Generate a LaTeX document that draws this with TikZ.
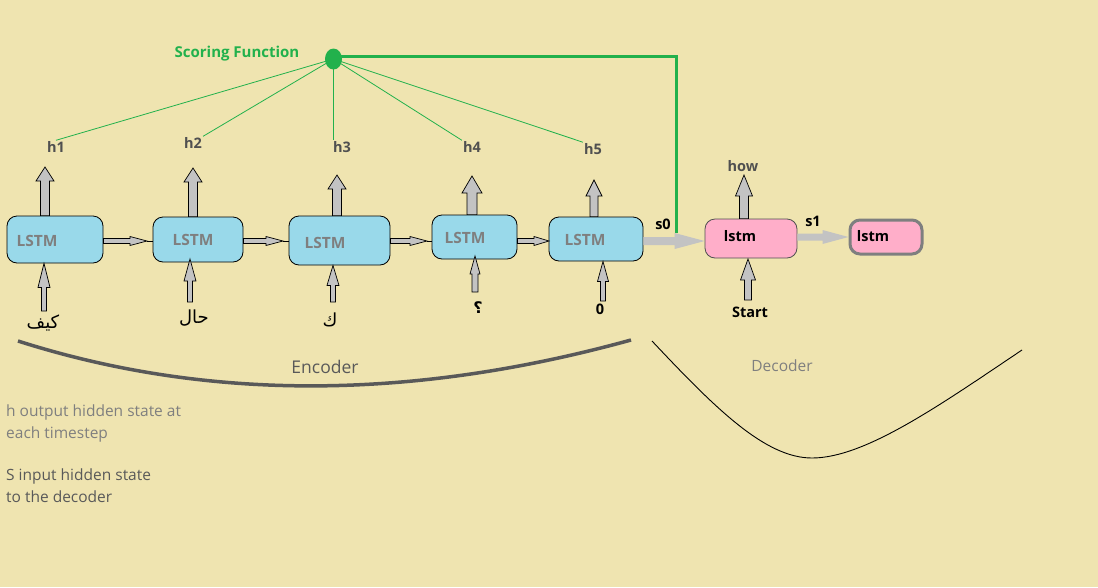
\documentclass[tikz,border=0pt]{standalone}
\usepackage{fontspec}
\setmainfont{Open Sans}
\newfontfamily\arabicfont[Script=Arabic]{DejaVu Sans}
\TeXXeTstate=1
\usetikzlibrary{calc,shapes.geometric}
\definecolor{bg}{RGB}{239,228,176}
\definecolor{boxblue}{RGB}{153,217,234}
\definecolor{boxpink}{RGB}{255,174,201}
\definecolor{sfgreen}{RGB}{34,177,76}
\definecolor{arrgray}{RGB}{195,195,195}
\definecolor{txtgray}{RGB}{127,127,127}
\definecolor{hgray}{RGB}{80,80,80}
\definecolor{dgray}{RGB}{89,89,89}
\newcommand\barrow[6][]{%
  \coordinate (bah) at ($(#3)!#6!(#2)$);
  \filldraw[#1] ($(#2)!#4!90:(#3)$) -- ($(bah)!#4!90:(#3)$) -- ($(bah)!#5!90:(#3)$) -- (#3)
    -- ($(bah)!#5!-90:(#3)$) -- ($(bah)!#4!-90:(#3)$) -- ($(#2)!#4!-90:(#3)$) -- cycle;}
\tikzset{
  bluebox/.style={draw=black, line width=0.8pt, fill=boxblue, rounded corners=10pt, inner sep=0pt},
  pinkbox/.style={draw=hgray, line width=0.8pt, fill=boxpink, rounded corners=10pt, inner sep=0pt},
  arr/.style={fill=arrgray, draw=black, line width=0.7pt},
  flatarr/.style={fill=arrgray, draw=none},
  boxtxt/.style={font=\fontsize{15.5}{18}\selectfont\bfseries, text=txtgray, inner sep=0pt},
  pinktxt/.style={font=\fontsize{14.5}{17}\selectfont\bfseries, text=black, inner sep=0pt},
  hlabel/.style={font=\fontsize{14.5}{17}\selectfont\bfseries, text=hgray, inner sep=1pt},
  blabel/.style={font=\fontsize{14.5}{17}\selectfont\bfseries, text=black, inner sep=0pt},
  artxt/.style={font=\arabicfont\fontsize{18}{21}\selectfont, text=black, inner sep=0pt},
  note/.style={font=\fontsize{15.5}{18}\selectfont, anchor=west, inner sep=0pt},
  glines/.style={draw=sfgreen, line width=0.8pt}
}
\begin{document}
\begin{tikzpicture}[x=1pt,y=-1pt]
\fill[bg] (0,0) rectangle (1098,587);
\useasboundingbox (0,0) rectangle (1098,587);

% encoder boxes
\node[bluebox, minimum width=96pt, minimum height=47pt] (b1) at (55,239.5) {};
\node[bluebox, minimum width=90pt, minimum height=45pt] (b2) at (198,239.5) {};
\node[bluebox, minimum width=101pt, minimum height=49pt] (b3) at (339.5,240.5) {};
\node[bluebox, minimum width=85pt, minimum height=44pt] (b4) at (474.5,237) {};
\node[bluebox, minimum width=94pt, minimum height=44pt] (b5) at (596,239) {};
\node[boxtxt] (t1) at (37,241) {LSTM};
\node[boxtxt] (t2) at (193,240) {LSTM};
\node[boxtxt] (t3) at (325,243) {LSTM};
\node[boxtxt] (t4) at (465,238) {LSTM};
\node[boxtxt] (t5) at (585,240) {LSTM};

% decoder boxes
\node[pinkbox, minimum width=92pt, minimum height=39pt] (p1) at (751,238.5) {};
\node[pinkbox, draw=txtgray, line width=3pt, minimum width=72pt, minimum height=34pt] (p2) at (886,237) {};
\node[pinktxt] (pt1) at (740,236) {lstm};
\node[pinktxt] (pt2) at (873,236) {lstm};

% output arrows
\coordinate (o1) at (45,167);  \coordinate (o1b) at (o1 |- b1.north);
\coordinate (o2) at (193,168); \coordinate (o2b) at (o2 |- b2.north);
\coordinate (o3) at (337,175); \coordinate (o3b) at (o3 |- b3.north);
\coordinate (o4) at (472,176); \coordinate (o4b) at (o4 |- b4.north);
\coordinate (o5) at (594,180); \coordinate (o5b) at (o5 |- b5.north);
\coordinate (o6) at (744,175); \coordinate (o6b) at (o6 |- p1.north);
\barrow[arr]{o1b}{o1}{4.5pt}{9pt}{14pt}
\barrow[arr]{o2b}{o2}{4.5pt}{9pt}{14pt}
\barrow[arr]{o3b}{o3}{4.5pt}{9pt}{14pt}
\barrow[arr]{o4b}{o4}{5pt}{10pt}{17pt}
\barrow[arr]{o5b}{o5}{4pt}{8pt}{16pt}
\barrow[arr]{o6b}{o6}{4.5pt}{8.5pt}{21pt}

% input arrows
\coordinate (i1) at (44,311);  \coordinate (i1t) at (i1 |- b1.south);
\coordinate (i2) at (190,302); \coordinate (i2t) at (190,259);
\coordinate (i3) at (333,302); \coordinate (i3t) at (i3 |- b3.south);
\coordinate (i4) at (475,292); \coordinate (i4t) at (475,256);
\coordinate (i5) at (603,301); \coordinate (i5t) at (i5 |- b5.south);
\coordinate (i6) at (748,300); \coordinate (i6t) at (748,259);
\barrow[arr]{i1}{i1t}{2.5pt}{6pt}{24pt}
\barrow[arr]{i2}{i2t}{2.5pt}{6pt}{22pt}
\barrow[arr]{i3}{i3t}{2.5pt}{6pt}{20pt}
\barrow[arr]{i4}{i4t}{3pt}{5pt}{18pt}
\barrow[arr]{i5}{i5t}{2.5pt}{5.5pt}{20pt}
\barrow[arr]{i6}{i6t}{3.5pt}{7.5pt}{21pt}

% horizontal arrows between encoder boxes
\coordinate (h12) at (147,241); \coordinate (s12) at (b1.east |- h12);
\coordinate (h23) at (283,241); \coordinate (s23) at (b2.east |- h23);
\coordinate (h34) at (427,241); \coordinate (s34) at (b3.east |- h34);
\coordinate (h45) at (549,241); \coordinate (s45) at (b4.east |- h45);
\barrow[arr]{s12}{h12}{2.5pt}{4.5pt}{17pt}
\barrow[arr]{s23}{h23}{2.5pt}{4.5pt}{17pt}
\barrow[arr]{s34}{h34}{2.5pt}{4.5pt}{17pt}
\barrow[arr]{s45}{h45}{2.5pt}{4.5pt}{15pt}
\draw[line width=0.8pt] (h12) -- (b2.west |- h12);
\draw[line width=0.8pt] (h23) -- (b3.west |- h23);
\draw[line width=0.8pt] (h34) -- (b4.west |- h34);

% encoder -> decoder, decoder -> next
\coordinate (e5) at (b5.east |- 0,241); \coordinate (d1) at (p1.west |- 0,241);
\barrow[flatarr]{e5}{d1}{4pt}{8pt}{30pt}
\coordinate (e6) at (p1.east |- 0,237); \coordinate (d2) at (p2.west |- 0,237);
\barrow[flatarr]{e6}{d2}{3.5pt}{7pt}{26pt}

% labels
\node[hlabel] (h1) at (56,147) {h1};
\node[hlabel] (h2) at (193,143) {h2};
\node[hlabel] (h3) at (342,147) {h3};
\node[hlabel] (h4) at (472,147) {h4};
\node[hlabel] (h5) at (593,149) {h5};
\node[hlabel] (how) at (743,166) {how};
\node[blabel] (s0) at (663,224) {s0};
\node[blabel] (s1) at (813,221) {s1};
\node[blabel] (start) at (750,312) {Start};
\node[artxt] (w1) at (43,323) {\beginR كيف\endR};
\node[artxt] (w2) at (194,318) {\beginR حال\endR};
\node[artxt] (w3) at (330,320) {\beginR ك\endR};
\node[artxt, font=\arabicfont\bfseries\fontsize{16}{19}\selectfont] (w4) at (478,308) {\beginR ؟\endR};
\node[blabel] (w5) at (600,309) {0};

% scoring function
\node[ellipse, fill=sfgreen, minimum width=17pt, minimum height=21pt, inner sep=0pt] (sf) at (333.5,59) {};
\node[font=\fontsize{15}{18}\selectfont\bfseries, text=sfgreen, inner sep=0pt] (sft) at (237,54) {Scoring Function};
\draw[glines] (sf.center) -- (h1.north);
\draw[glines] (sf.center) -- (h2.north east);
\draw[glines] (sf.center) -- (sf |- h3.north);
\draw[glines] (sf.center) -- (h4.north west);
\draw[glines] (sf.center) -- (h5.north west);
\coordinate (gc) at (676,56);
\coordinate (ge) at (676,233);
\draw[draw=sfgreen, line width=3pt] (sf.center |- gc) -- (gc) -- (ge);

% encoder / decoder braces
\draw[draw=dgray, line width=3.5pt] (18,341) .. controls (206,401) and (410,401) .. (631,340);
\node[font=\fontsize{17.5}{20}\selectfont, text=dgray, inner sep=0pt] (enc) at (325,367) {Encoder};
\draw[line width=0.9pt] (652,341) .. controls (715,408) and (765,458) .. (812,458) .. controls (865,458) and (940,405) .. (1022,350);
\node[font=\fontsize{15.5}{18}\selectfont, text=txtgray, inner sep=0pt] (dec) at (782,366) {Decoder};

% notes
\node[note, text=txtgray] (n1) at (6,412) {h output hidden state at};
\node[note, text=txtgray] (n2) at (6,434) {each timestep};
\node[note, text=dgray] (n3) at (6,476) {S input hidden state};
\node[note, text=dgray] (n4) at (6,497) {to the decoder};
\end{tikzpicture}
\end{document}
